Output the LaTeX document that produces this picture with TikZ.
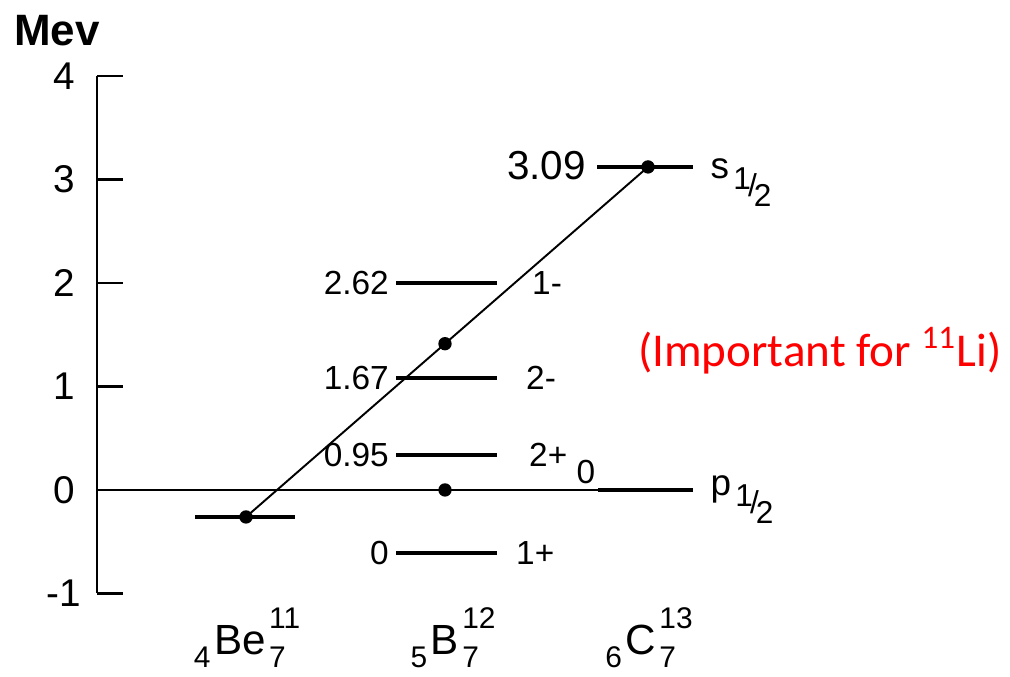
\documentclass[tikz,border=0pt]{standalone}
\usepackage{fontspec}
\setmainfont{Liberation Sans}
\newfontfamily\notefont{Carlito}
\usetikzlibrary{positioning}
\definecolor{noteRed}{HTML}{FF0000}
\newcommand{\nucsm}{\fontsize{8.5}{9}\selectfont}
\newcommand{\orbsm}{\fontsize{9}{10}\selectfont}
% nuclide: prescript Z, symbol, mass number A, neutron number N
\newcommand{\nuc}[4]{{\nucsm\raisebox{-3.7pt}{#1}}\kern1pt#2\kern1pt%
  \rlap{\nucsm\raisebox{-3.7pt}{#4}}{\nucsm\raisebox{7.5pt}{#3}}}
% orbital with a slanted one-half
\newcommand{\orb}[1]{#1\kern1.2pt{\orbsm\raisebox{-3.2pt}{1}\kern-0.8pt%
  \raisebox{-5.2pt}{/}\kern-0.9pt\raisebox{-8pt}{2}}}
\tikzset{
  lvl/.style={line width=0.95pt},
  axisline/.style={line width=0.6pt},
  slope/.style={line width=0.55pt},
  dot/.style={circle, fill=black, inner sep=0pt, minimum size=3.8pt},
  elab/.style={font=\fontsize{9.5}{10}\selectfont, inner sep=1pt},
  jlab/.style={font=\fontsize{9.5}{10}\selectfont, inner sep=1pt, anchor=west},
  ticklab/.style={font=\fontsize{11}{12}\selectfont, inner sep=1pt},
  nuclab/.style={font=\fontsize{12}{13}\selectfont, anchor=base, inner sep=0pt},
  orblab/.style={font=\fontsize{10.5}{11}\selectfont, anchor=base west, inner sep=0pt}
}

\begin{document}
\begin{tikzpicture}[x=1cm, y=1.035cm]
\useasboundingbox (0,-1.807) rectangle (10.10,4.734);

% energy axis
\node[font=\bfseries\fontsize{12.5}{13}\selectfont] (mev) at (0.57,4.44) {Mev};
\coordinate (atop) at (0.97,4);
\coordinate (abot) at (0.97,-1);
\draw[axisline] (atop) -- (abot);
\foreach \e/\n in {4/a,3/b,2/c,1/d,0/e,-1/f} {
  \draw[axisline] (0.97,\e) -- (1.23,\e);
  \node[ticklab] (tick\n) at (0.64,\e) {\e};
}

% zero line and p1/2
\coordinate (zl) at (0.97,0);
\coordinate (zr) at (6.93,0);
\draw[axisline] (zl) -- (zr);
\draw[lvl] (5.98,0) -- (zr);
\node[orblab] (p12) at (7.10,-0.05) {\orb{p}};
\node[elab] (czero) at (5.86,0.174) {0};

% Be11
\coordinate (beL) at (1.95,-0.261);
\coordinate (beR) at (2.95,-0.261);
\draw[lvl] (beL) -- (beR);
\node[dot] (beDot) at (2.46,-0.261) {};

% B12 levels
\foreach \y/\e/\j/\jx/\n in {2.00/2.62/1-/5.28/a, 1.082/1.67/2-/5.22/b,
                              0.338/0.95/2+/5.25/c, -0.609/0/1+/5.12/d} {
  \coordinate (bL\n) at (3.96,\y);
  \coordinate (bR\n) at (4.97,\y);
  \draw[lvl] (bL\n) -- (bR\n);
  \node[elab, anchor=east] (be\n) at (3.93,\y) {\e};
  \node[jlab] (bj\n) at (\jx,\y) {\j};
}
\node[dot] (bDot) at (4.45,0) {};

% C13 s1/2
\coordinate (cL) at (5.97,3.121);
\coordinate (cR) at (6.93,3.121);
\draw[lvl] (cL) -- (cR);
\node[dot] (cDot) at (6.48,3.121) {};
\node[font=\fontsize{11.5}{12}\selectfont, anchor=east, inner sep=1pt] (c309) at (5.90,3.13) {3.09};
\node[orblab] (s12) at (7.10,3.014) {\orb{s}};

% s1/2 trend
\draw[slope] (beDot.center) -- node[dot, pos=0.495] (midDot) {} (cDot.center);

% nuclides
\node[nuclab] (nBe) at (2.47,-1.594) {\nuc{4}{Be}{11}{7}};
\node[nuclab] (nB)  at (4.53,-1.594) {\nuc{5}{B}{12}{7}};
\node[nuclab] (nC)  at (6.49,-1.594) {\nuc{6}{C}{13}{7}};

\node[font=\notefont\fontsize{13.4}{14}\selectfont, text=noteRed, anchor=base] (note)
  at (8.20,1.19) {(Important for \textsuperscript{11}Li)};
\end{tikzpicture}
\end{document}
